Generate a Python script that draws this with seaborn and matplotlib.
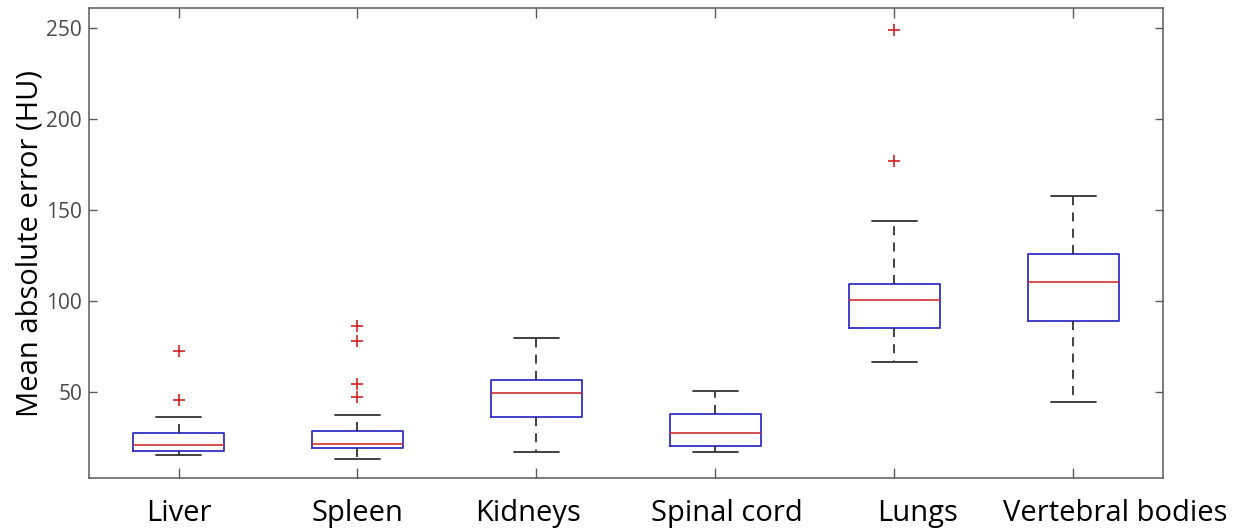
import numpy as np
import pandas as pd
import matplotlib
matplotlib.use("Agg")
import matplotlib.pyplot as plt
import matplotlib.transforms as mtransforms
import seaborn as sns

# ---- data (HU) ----
categories = ["Liver", "Spleen", "Kidneys", "Spinal cord", "Lungs", "Vertebral bodies"]
whisker_low = [15.4, 13.5, 17.4, 17.4, 66.5, 44.9]
q1 = [17.6, 19.2, 36.4, 20.5, 85.5, 89.4]
median = [20.9, 21.8, 49.8, 27.6, 100.7, 110.4]
q3 = [27.5, 28.9, 57.0, 38.3, 109.3, 126.2]
whisker_high = [36.3, 37.7, 79.8, 50.5, 144.3, 158.0]
outliers = [[45.8, 72.5], [47.6, 54.4, 78.2, 86.3], [], [], [176.9, 248.9], []]
yticks = [50, 100, 150, 200, 250]

# horizontal nudges (pixels) of the category labels, as in the reference layout
label_shift_px = [0, 0, -8, 11, 23, 42]

# Build per-group observations that reproduce the read summary values
rows = []
for i, cat in enumerate(categories):
    k = len(outliers[i])
    a = k + 2
    vals = ([whisker_low[i]] * (1 + k) + [q1[i]] * a + [median[i]]
            + [q3[i]] * a + [whisker_high[i]] + list(outliers[i]))
    rows += [(cat, v) for v in vals]
df = pd.DataFrame(rows, columns=["organ", "mae"])

sns.set_style("white")
plt.rcParams["font.family"] = ["Open Sans", "DejaVu Sans"]

fig = plt.figure(figsize=(12.49, 5.31), dpi=100)
ax = fig.add_axes([0.0713, 0.0998, 0.8597, 0.885])

blue = "#3030c8"
red = "#d03030"
sns.boxplot(
    data=df, x="organ", y="mae", order=categories, ax=ax,
    fill=False, width=0.51, whis=1.5,
    boxprops={"color": blue, "linewidth": 1.3},
    medianprops={"color": red, "linewidth": 1.2},
    whiskerprops={"color": "#333333", "linewidth": 1.3, "linestyle": (0, (5, 4))},
    capprops={"color": "#333333", "linewidth": 1.3},
    flierprops={"marker": "+", "markeredgecolor": "#d42020", "markersize": 8,
                "markeredgewidth": 1.2},
)

ax.set_xlim(-0.5, 5.5)
ax.set_ylim(3, 261)
ax.set_yticks(yticks)
ax.set_xlabel("")
ax.set_ylabel("Mean absolute error (HU)", fontsize=21, color="black", labelpad=1)

for s in ax.spines.values():
    s.set_visible(True)
    s.set_color("#5a5a5a")
    s.set_linewidth(1.1)

ax.tick_params(axis="y", direction="in", length=6, width=1.0, color="#5a5a5a",
               labelsize=15, labelcolor="#4a4a4a", left=True, right=True, pad=5)
ax.tick_params(axis="x", direction="in", length=7, width=1.0, color="#5a5a5a",
               labelsize=21, labelcolor="black", bottom=True, top=True, pad=15)

ax.set_xticks(range(len(categories)))
ax.set_xticklabels(categories)
fig.canvas.draw()
for tick, dx in zip(ax.xaxis.get_major_ticks(), label_shift_px):
    lab = tick.label1
    lab.set_transform(lab.get_transform()
                      + mtransforms.ScaledTranslation(dx / fig.dpi, 0, fig.dpi_scale_trans))

fig.savefig("out.png", dpi=100)
